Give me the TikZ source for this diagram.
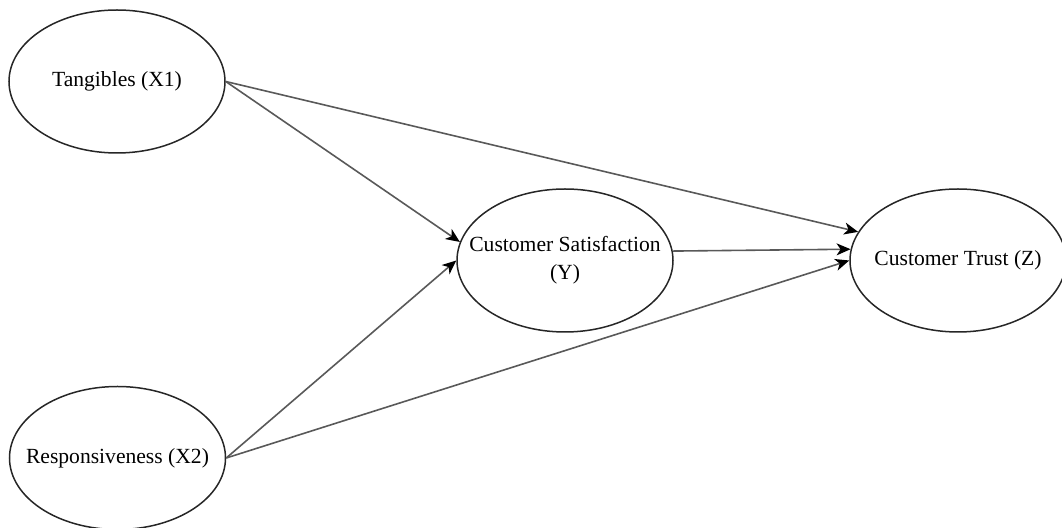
\documentclass[tikz,border=0pt]{standalone}
\usepackage{fontspec}
\setmainfont{Liberation Serif}
\usetikzlibrary{arrows.meta,shapes.geometric}
\begin{document}
\begin{tikzpicture}[x=0.5pt,y=-0.5pt,
  var/.style={draw=black!85, line width=0.75pt, ellipse, minimum width=108pt, minimum height=71.5pt,
    inner sep=0pt},
  txt/.style={inner sep=0pt, align=center, font=\fontsize{10.8}{14}\selectfont},
  link/.style={draw=black!65, line width=0.8pt,
    -{Stealth[length=7pt,width=6pt,inset=2pt,color=black]}}]
\useasboundingbox (0,0) rectangle (1062,528);
\node[var] (t) at (117,81.5) {};
\node[var] (r) at (117.5,458) {};
\node[var] (cs) at (565,260.5) {};
\node[var] (ct) at (958,260.5) {};
\node[txt] (tl) at (t) {Tangibles (X1)};
\node[txt] (rl) at (r) {Responsiveness (X2)};
\node[txt] (csl) at (cs) {Customer Satisfaction\\(Y)};
\node[txt] (ctl) at (ct) {Customer Trust (Z)};
\draw[link] (t.east) -- (cs.170.5);
\draw[link] (t.east) -- (ct.164.6);
\draw[link] (r.east) -- (cs.west);
\draw[link] (r.east) -- (ct.west);
\draw[link] (cs.5.6) -- (ct.174.4);
\end{tikzpicture}
\end{document}
